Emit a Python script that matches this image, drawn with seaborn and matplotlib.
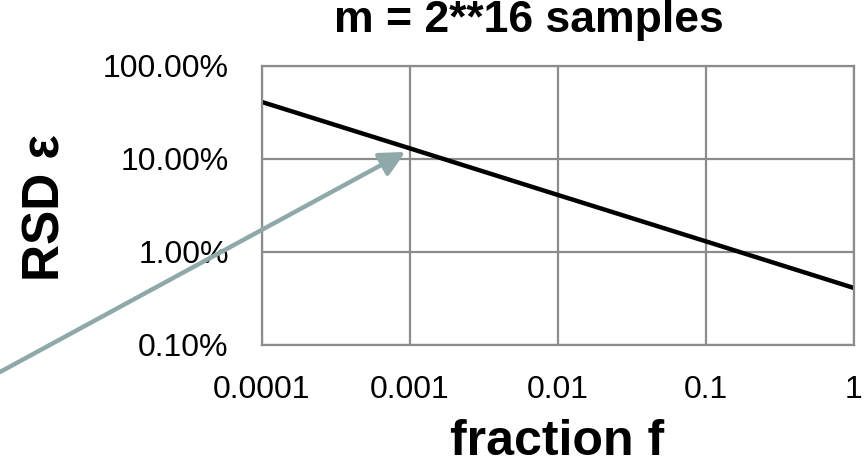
import matplotlib
matplotlib.use("Agg")
import matplotlib.pyplot as plt
import matplotlib.ticker as mticker
import seaborn as sns
import pandas as pd

# ---- data ----
fraction = [0.0001, 0.001, 0.01, 0.1, 1.0]
rsd = [0.41, 0.13, 0.041, 0.013, 0.0041]
x_ticks = [0.0001, 0.001, 0.01, 0.1, 1]
x_tick_labels = ["0.0001", "0.001", "0.01", "0.1", "1"]
y_ticks = [0.001, 0.01, 0.1, 1.0]
y_tick_labels = ["0.10%", "1.00%", "10.00%", "100.00%"]
title = "m = 2**16 samples"
x_label = "fraction f"
y_label = "RSD ε"
arrow_tip = (9.3e-4, 0.119)      # data coords
arrow_tail = (0.0, 0.2017)       # figure fraction

df = pd.DataFrame({"fraction": fraction, "rsd": rsd})

sns.set_theme(style="white")
plt.rcParams["font.family"] = ["Liberation Sans", "DejaVu Sans"]
plt.rcParams["text.color"] = "black"
plt.rcParams["axes.labelcolor"] = "black"

fig = plt.figure(figsize=(8.64, 4.66), dpi=100)
ax = fig.add_axes([0.3032, 0.2597, 0.6852, 0.5987])

sns.lineplot(data=df, x="fraction", y="rsd", ax=ax, color="black", linewidth=3.2)

ax.set_xscale("log")
ax.set_yscale("log")
ax.set_xlim(0.0001, 1)
ax.set_ylim(0.001, 1)

ax.xaxis.set_major_locator(mticker.FixedLocator(x_ticks))
ax.xaxis.set_major_formatter(mticker.FixedFormatter(x_tick_labels))
ax.yaxis.set_major_locator(mticker.FixedLocator(y_ticks))
ax.yaxis.set_major_formatter(mticker.FixedFormatter(y_tick_labels))
ax.xaxis.set_minor_locator(mticker.NullLocator())
ax.yaxis.set_minor_locator(mticker.NullLocator())

ax.tick_params(axis="both", length=0, labelsize=23, colors="black")
ax.tick_params(axis="y", pad=24)
ax.tick_params(axis="x", pad=21.5)

ax.grid(True, color="#8c8c8c", linewidth=1.6)
for sp in ax.spines.values():
    sp.set_visible(True)
    sp.set_color("#8c8c8c")
    sp.set_linewidth(1.6)

ax.set_title(title, fontsize=32, fontweight="bold", color="black",
             x=0.451, y=1.093, va="baseline")
ax.set_xlabel(x_label, fontsize=36, fontweight="bold", color="black", va="baseline")
ax.xaxis.set_label_coords(0.499, -0.394)
ax.set_ylabel(y_label, fontsize=37, fontweight="bold", color="black", va="center")
ax.yaxis.set_label_coords(-0.365, 0.491)

ax.annotate("", xy=arrow_tip, xycoords="data",
            xytext=arrow_tail, textcoords="figure fraction",
            arrowprops=dict(arrowstyle="-|>", color="#8FA8AA", lw=3.2,
                            mutation_scale=38, shrinkA=0, shrinkB=0),
            annotation_clip=False)

fig.savefig("out.png", dpi=100)
